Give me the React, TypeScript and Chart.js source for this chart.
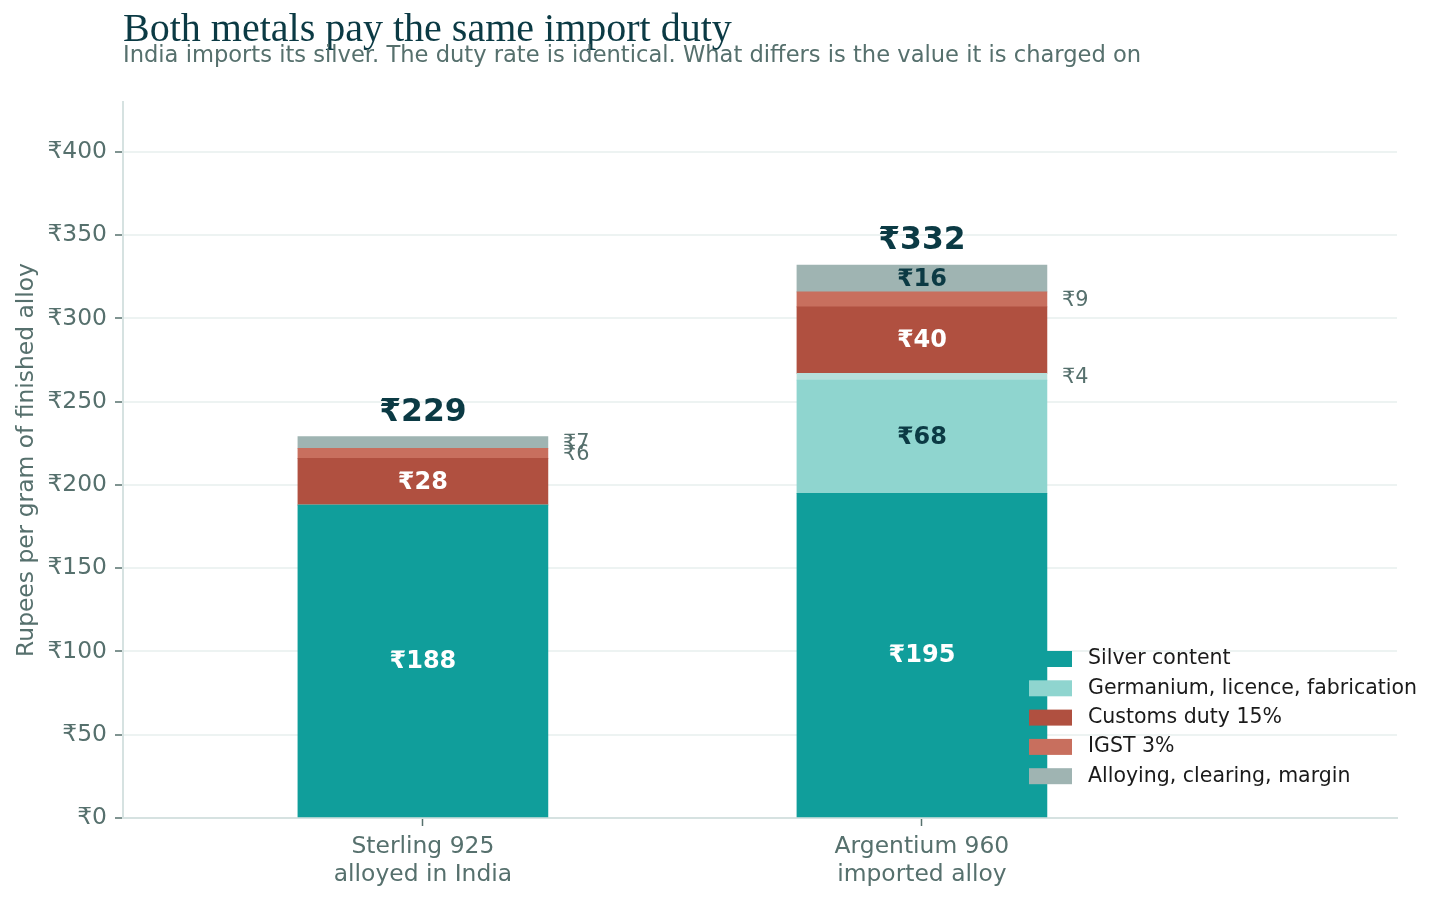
import React, { useEffect, useRef } from 'react';
import { Chart, registerables } from 'chart.js';

Chart.register(...registerables);

// categories (two lines each)
const categories: string[][] = [
    ['Sterling 925', 'alloyed in India'],
    ['Argentium 960', 'imported alloy'],
];

// rupees per gram, stacked bottom to top
const silverContent = [188, 195];
const germaniumFab = [0, 68];
const importExtras = [0, 4];
const customsDuty = [28, 40];
const igst = [6, 9];
const alloyingMargin = [7, 16];

const yTicks = [0, 50, 100, 150, 200, 250, 300, 350, 400];

const INK = '#0b3a44';
const MUTED = '#56706d';
const SANS = '"DejaVu Sans", sans-serif';

const series = [
    { label: 'Silver content', data: silverContent, color: '#109e9b', text: '#ffffff', legend: true },
    { label: 'Germanium, licence, fabrication', data: germaniumFab, color: '#8fd5cf', text: INK, legend: true },
    { label: 'Import charges', data: importExtras, color: '#b6dfdb', text: INK, legend: false },
    { label: 'Customs duty 15%', data: customsDuty, color: '#b05040', text: '#ffffff', legend: true },
    { label: 'IGST 3%', data: igst, color: '#c86f5e', text: '#ffffff', legend: true },
    { label: 'Alloying, clearing, margin', data: alloyingMargin, color: '#9fb4b2', text: INK, legend: true },
];

const headerPlugin = {
    id: 'header',
    afterDraw(chart: any) {
        const { ctx, chartArea } = chart;
        ctx.save();
        ctx.textAlign = 'left';
        ctx.textBaseline = 'alphabetic';
        ctx.fillStyle = INK;
        ctx.font = '40px "Liberation Serif", serif';
        ctx.fillText('Both metals pay the same import duty', chartArea.left, 41);
        ctx.fillStyle = MUTED;
        ctx.font = '22.6px ' + SANS;
        ctx.fillText('India imports its silver. The duty rate is identical. What differs is the value it is charged on', chartArea.left, 62);
        ctx.restore();
    },
};

const valueLabelPlugin = {
    id: 'valueLabels',
    afterDatasetsDraw(chart: any) {
        const { ctx } = chart;
        ctx.save();
        const totals = categories.map((_, j) => series.reduce((s, d) => s + d.data[j], 0));
        series.forEach((s, i) => {
            const meta = chart.getDatasetMeta(i);
            meta.data.forEach((bar: any, j: number) => {
                const v = s.data[j];
                if (!v) return;
                const cy = (bar.y + bar.base) / 2 + 1;
                ctx.textBaseline = 'middle';
                if (v >= 10) {
                    ctx.font = 'bold 24px ' + SANS;
                    ctx.fillStyle = s.text;
                    ctx.textAlign = 'center';
                    ctx.fillText('₹' + v, bar.x, cy);
                } else {
                    ctx.font = '20.8px ' + SANS;
                    ctx.fillStyle = MUTED;
                    ctx.textAlign = 'left';
                    ctx.fillText('₹' + v, bar.x + bar.width / 2 + 15, cy);
                }
            });
        });
        const yScale = chart.scales.y;
        const xScale = chart.scales.x;
        totals.forEach((t, j) => {
            ctx.font = 'bold 31.4px ' + SANS;
            ctx.fillStyle = INK;
            ctx.textAlign = 'center';
            ctx.textBaseline = 'middle';
            ctx.fillText('₹' + t, xScale.getPixelForValue(j), yScale.getPixelForValue(t) - 24);
        });
        ctx.restore();
    },
};

const legendPlugin = {
    id: 'cornerLegend',
    afterDraw(chart: any) {
        const { ctx, chartArea } = chart;
        ctx.save();
        ctx.font = '20.5px ' + SANS;
        ctx.textAlign = 'left';
        ctx.textBaseline = 'middle';
        const x0 = chartArea.right - 368;
        let y = chartArea.bottom - 159;
        series.filter(s => s.legend).forEach(s => {
            ctx.fillStyle = s.color;
            ctx.fillRect(x0, y - 8, 43, 16);
            ctx.fillStyle = '#1a1a1a';
            ctx.fillText(s.label, x0 + 59, y);
            y += 29.3;
        });
        ctx.restore();
    },
};

const App: React.FC = () => {
    const chartRef = useRef<HTMLCanvasElement | null>(null);
    const chartInstanceRef = useRef<Chart | null>(null);

    useEffect(() => {
        if (!chartRef.current) return;

        chartInstanceRef.current?.destroy();

        chartInstanceRef.current = new Chart(chartRef.current, {
            type: 'bar',
            data: {
                datasets: series.map(s => ({
                    label: s.label,
                    data: s.data.map((v, i) => ({ x: i, y: v })),
                    backgroundColor: s.color,
                    borderWidth: 0,
                    barThickness: 250,
                })),
            },
            options: {
                responsive: true,
                maintainAspectRatio: false,
                animation: false,
                layout: { padding: { top: 102, right: 43, left: 0, bottom: 0 } },
                scales: {
                    x: {
                        type: 'linear',
                        stacked: true,
                        offset: false,
                        min: -0.601,
                        max: 1.952,
                        afterBuildTicks: (scale: any) => {
                            scale.ticks = categories.map((_, i) => ({ value: i }));
                        },
                        afterFit: (scale: any) => { scale.height = 83; },
                        grid: { display: true, offset: false, drawOnChartArea: false, tickLength: 8, tickColor: MUTED, tickWidth: 1.5 },
                        border: { color: '#d6e2e1', width: 2 },
                        ticks: {
                            color: MUTED,
                            padding: 7,
                            maxRotation: 0,
                            autoSkip: false,
                            font: { family: SANS, size: 23.4, lineHeight: 1.2 },
                            callback: (value: any) => categories[value] ?? '',
                        },
                    },
                    y: {
                        stacked: true,
                        min: 0,
                        max: 430,
                        afterBuildTicks: (scale: any) => {
                            scale.ticks = yTicks.map(v => ({ value: v }));
                        },
                        afterFit: (scale: any) => { scale.width = 123; },
                        grid: { color: '#edf3f2', lineWidth: 2, tickLength: 8, tickColor: MUTED, tickWidth: 1.5 },
                        border: { color: '#d6e2e1', width: 2 },
                        ticks: {
                            color: MUTED,
                            padding: 8,
                            font: { family: SANS, size: 23.4 },
                            callback: (value: any) => '₹' + value,
                        },
                        title: {
                            display: true,
                            text: 'Rupees per gram of finished alloy',
                            color: MUTED,
                            padding: { top: 13, bottom: 4 },
                            font: { family: SANS, size: 23.4 },
                        },
                    },
                },
                plugins: {
                    legend: { display: false },
                    tooltip: { enabled: false },
                },
            },
            plugins: [headerPlugin, valueLabelPlugin, legendPlugin],
        });

        return () => {
            chartInstanceRef.current?.destroy();
            chartInstanceRef.current = null;
        };
    }, []);

    return (
        <div style={{ position: 'absolute', left: 0, top: 0, width: 1440, height: 901, background: '#ffffff' }}>
            <canvas ref={chartRef}></canvas>
        </div>
    );
};

export default App;
